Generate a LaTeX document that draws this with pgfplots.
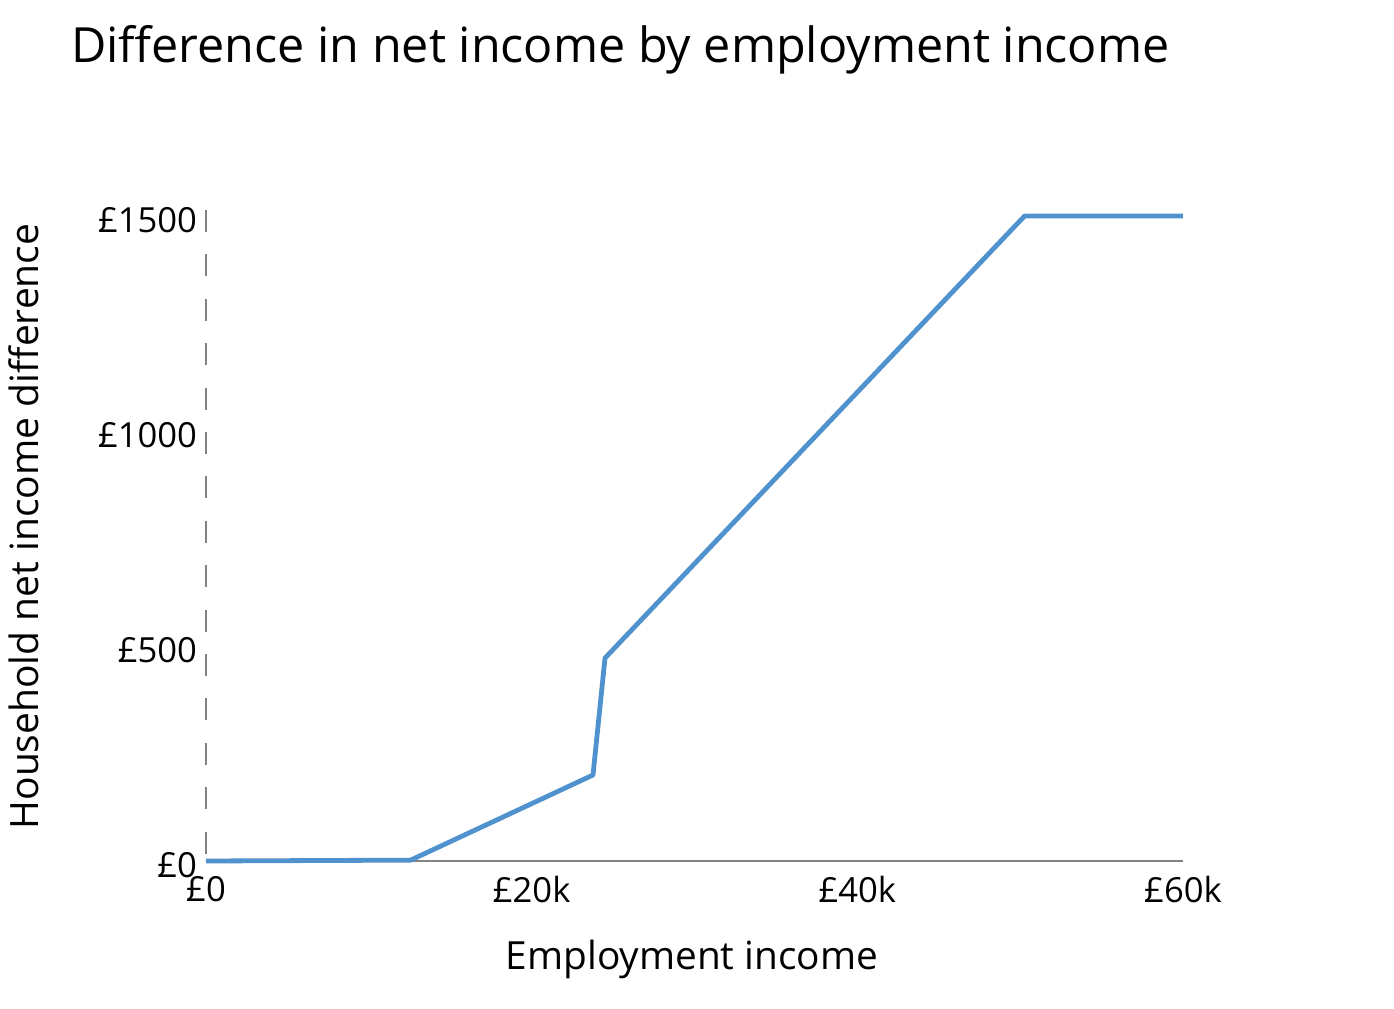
\documentclass[border=0pt]{standalone}
\usepackage{fontspec}
\setmainfont{Open Sans}
\usepackage{pgfplots}
\pgfplotsset{compat=1.18}
\definecolor{lineblue}{RGB}{80,146,206}
\definecolor{axisgray}{RGB}{130,130,130}
\begin{document}
\begin{tikzpicture}
\begin{axis}[
  scale only axis,
  width=488.5pt, height=325.5pt,
  xmin=0, xmax=60000, ymin=0, ymax=1514,
  axis line style={draw=none},
  major tick length=0pt,
  scaled x ticks=false, scaled y ticks=false,
  xtick={0,20000,40000,60000},
  xticklabels={£0,£20k,£40k,£60k},
  ytick={0,500,1000,1500},
  yticklabels={£0,£500,£1000,£1500},
  tick label style={font=\fontsize{17.3}{20}\selectfont},
  xticklabel style={anchor=north, yshift=-4pt},
  yticklabel style={anchor=east, xshift=-1pt, yshift=-2pt},
  clip=false,
]
\draw[axisgray, line width=0.6pt] (rel axis cs:0,0) -- (rel axis cs:1,0);
\draw[axisgray, line width=1pt, dash pattern=on 11pt off 11.2pt] (rel axis cs:0,1) -- (rel axis cs:0,0);
\addplot[lineblue, line width=2.4pt, line join=round] coordinates {
  (0,0) (12570,2) (23767,200) (24504,472) (50270,1500) (60000,1500)
};
\coordinate (O) at (rel axis cs:0,0);
\node[anchor=base west, font=\fontsize{24.25}{28}\selectfont, xshift=-71pt, yshift=73.8pt] at (rel axis cs:0,1) {Difference in net income by employment income};
\node[anchor=base, font=\fontsize{19.4}{22}\selectfont, xshift=-1.25pt, yshift=-54pt] at (rel axis cs:0.5,0) {Employment income};
\node[anchor=base, rotate=90, font=\fontsize{19.5}{22}\selectfont, xshift=4.5pt, yshift=83.5pt] at (rel axis cs:0,0.5) {Household net income difference};
\end{axis}
\pgfresetboundingbox
\useasboundingbox ([xshift=-103pt,yshift=-73.5pt]O) rectangle ++(697pt,504pt);
\end{tikzpicture}
\end{document}
